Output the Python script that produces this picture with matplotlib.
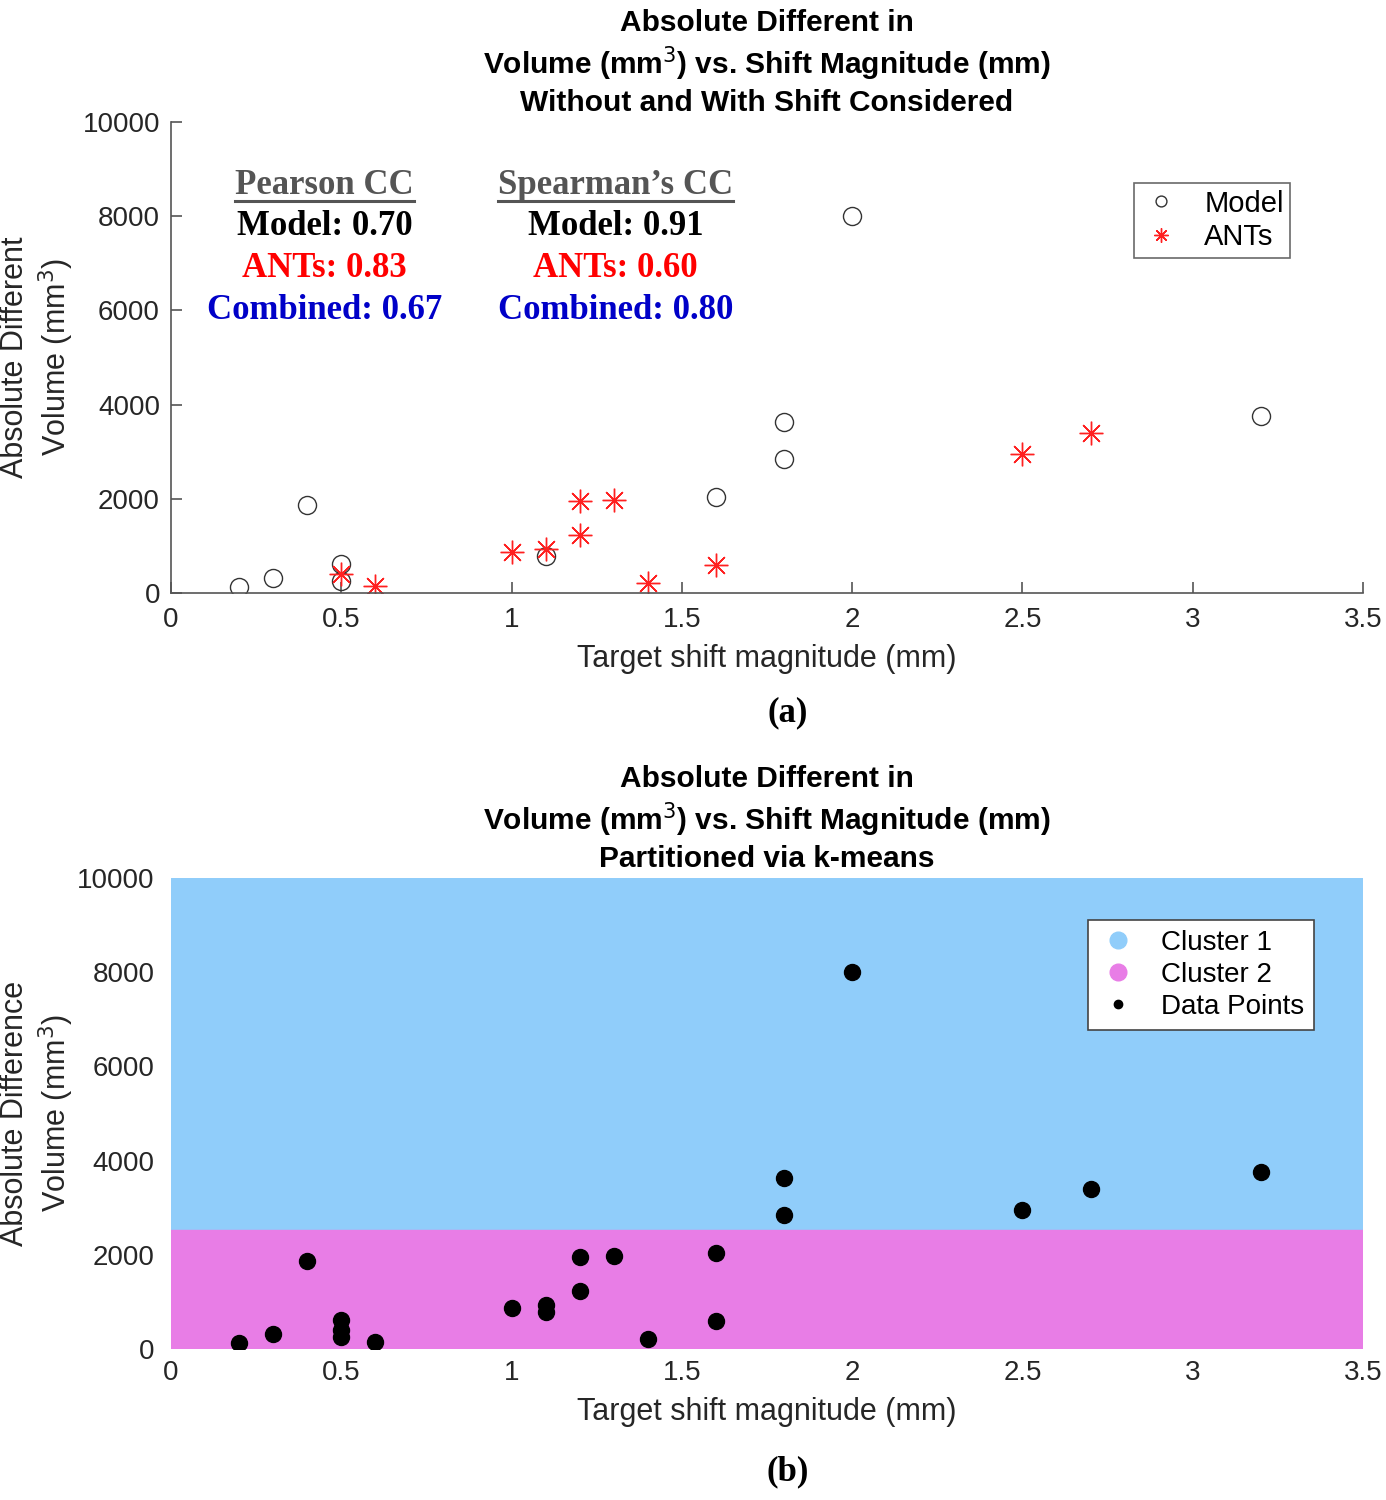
import matplotlib
matplotlib.use('Agg')
import matplotlib.pyplot as plt
from matplotlib.lines import Line2D

plt.rcParams['font.family'] = ['Liberation Sans', 'DejaVu Sans']

# Model results (open circles)
model_x = [0.2, 0.3, 0.4, 0.5, 0.5, 1.1, 1.6, 1.8, 1.8, 2.0, 3.2]
model_y = [130, 320, 1870, 615, 250, 785, 2040, 3630, 2850, 8000, 3760]

# ANTs results (red asterisks)
ants_x = [0.5, 0.6, 1.0, 1.1, 1.2, 1.2, 1.3, 1.4, 1.6, 2.5, 2.7]
ants_y = [400, 150, 870, 930, 1950, 1230, 1975, 210, 600, 2950, 3400]

# k-means partition boundary between the two clusters
cluster_split = 2530

pearson = {'Model': '0.70', 'ANTs': '0.83', 'Combined': '0.67'}
spearman = {'Model': '0.91', 'ANTs': '0.60', 'Combined': '0.80'}
cc_colors = {'Model': 'black', 'ANTs': '#ff0000', 'Combined': '#0000c8'}

x_ticks = [0, 0.5, 1, 1.5, 2, 2.5, 3, 3.5]
x_ticklabels = ['0', '0.5', '1', '1.5', '2', '2.5', '3', '3.5']
y_ticks = [0, 2000, 4000, 6000, 8000, 10000]

blue = '#90cdfa'
pink = '#e87de6'
axis_gray = '#555555'
fs = 20
lfs = 22

fig = plt.figure(figsize=(13.86, 15), dpi=100)
ax1 = fig.add_axes([0.1234, 0.6047, 0.86, 0.314])
ax2 = fig.add_axes([0.1234, 0.1007, 0.86, 0.314])

for ax in (ax1, ax2):
    ax.set_xlim(0, 3.5)
    ax.set_ylim(0, 10000)
    ax.set_xticks(x_ticks)
    ax.set_xticklabels(x_ticklabels)
    ax.set_yticks(y_ticks)
    ax.set_xlabel('Target shift magnitude (mm)', fontsize=lfs, color='#262626', labelpad=8)
    ax.tick_params(labelsize=fs, labelcolor='#262626')

# ---- (a) ----
for side in ('top', 'right'):
    ax1.spines[side].set_visible(False)
for side in ('left', 'bottom'):
    ax1.spines[side].set_color(axis_gray)
    ax1.spines[side].set_linewidth(1.2)
ax1.tick_params(direction='in', length=8, width=1.2, color=axis_gray, pad=8)
ax1.tick_params(axis='x', pad=10)

ax1.plot(model_x, model_y, linestyle='none', marker='o', ms=13, mfc='none',
         mec='#333333', mew=1.0, label='Model')
ax1.plot(ants_x, ants_y, linestyle='none', marker=(8, 2, 0), ms=17, mfc='none',
         mec='#ff2020', mew=1.0, label='ANTs')

leg1 = ax1.legend(loc='upper right', bbox_to_anchor=(0.939, 0.870), borderaxespad=0,
                  fontsize=21, frameon=True, fancybox=False, edgecolor='#444444',
                  handletextpad=0.8, borderpad=0.22, labelspacing=0.2,
                  handlelength=1.4, markerscale=0.6)
leg1.get_frame().set_linewidth(1.2)

ax1.set_ylabel('Absolute Different\nVolume (mm$^3$)', fontsize=lfs, color='#262626')
ax1.yaxis.set_label_coords(-0.08, 0.5)
ax1.set_title('Absolute Different in\nVolume (mm$^3$) vs. Shift Magnitude (mm)\n'
              'Without and With Shift Considered', fontsize=21.5, fontweight='bold',
              pad=8, linespacing=1.25)

serif = ['Liberation Serif', 'DejaVu Serif']
headers = []
for cx, title, vals in ((0.129, 'Pearson CC', pearson), (0.373, 'Spearman\u2019s CC', spearman)):
    headers.append(ax1.text(cx, 0.866, title, transform=ax1.transAxes, ha='center', va='center',
                            fontsize=25, fontweight='bold', family=serif, color='#555555'))
    for i, key in enumerate(['Model', 'ANTs', 'Combined']):
        ax1.text(cx, 0.777 - 0.089 * i, f'{key}: {vals[key]}', transform=ax1.transAxes,
                 ha='center', va='center', fontsize=25, fontweight='bold', family=serif,
                 color=cc_colors[key])

# ---- (b) ----
for side in ax2.spines:
    ax2.spines[side].set_visible(False)
ax2.tick_params(length=0, pad=12)
ax2.tick_params(axis='x', pad=8)
ax2.axhspan(cluster_split, 10000, color=blue, zorder=0)
ax2.axhspan(0, cluster_split, color=pink, zorder=0)
ax2.plot(model_x + ants_x, model_y + ants_y, linestyle='none', marker='o', ms=11.5,
         color='black', zorder=3)

handles = [Line2D([], [], linestyle='none', marker='o', ms=12, color=blue),
           Line2D([], [], linestyle='none', marker='o', ms=12, color=pink),
           Line2D([], [], linestyle='none', marker='o', ms=6, color='black')]
leg2 = ax2.legend(handles, ['Cluster 1', 'Cluster 2', 'Data Points'], loc='upper right',
                  bbox_to_anchor=(0.959, 0.911), borderaxespad=0, fontsize=fs,
                  frameon=True, fancybox=False, framealpha=1, edgecolor='#444444',
                  handletextpad=0.8, borderpad=0.35, labelspacing=0.22, handlelength=1.5)
leg2.get_frame().set_linewidth(1.2)

ax2.set_ylabel('Absolute Difference\nVolume (mm$^3$)', fontsize=lfs, color='#262626')
ax2.yaxis.set_label_coords(-0.08, 0.5)
ax2.set_title('Absolute Different in\nVolume (mm$^3$) vs. Shift Magnitude (mm)\n'
              'Partitioned via k-means', fontsize=21.5, fontweight='bold',
              pad=8, linespacing=1.25)

fig.text(0.5685, 0.525, '(a)', ha='center', va='center', fontsize=25,
         fontweight='bold', family=serif)
fig.text(0.5685, 0.0187, '(b)', ha='center', va='center', fontsize=25,
         fontweight='bold', family=serif)

# underline the correlation headers
fig.canvas.draw()
renderer = fig.canvas.get_renderer()
for t in headers:
    bb = t.get_window_extent(renderer)
    y = bb.y0 + 1
    fig.add_artist(Line2D([bb.x0, bb.x1], [y, y], transform=None, color='#555555', lw=2.2))

fig.savefig('out.png', dpi=100)
